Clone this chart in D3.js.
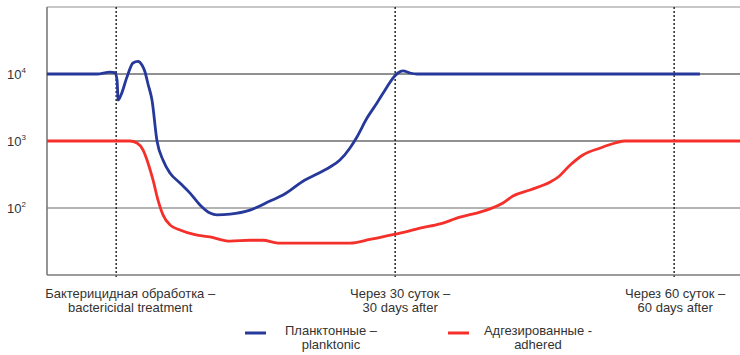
<!DOCTYPE html>
<html><head><meta charset="utf-8">
<script src="https://cdn.jsdelivr.net/npm/d3@7"></script>
<style>
html,body{margin:0;padding:0;background:#fff;}
svg{display:block;}
text{font-family:"Liberation Sans Narrow","Arial Narrow","Liberation Sans",Arial,sans-serif;fill:#333;}
</style></head>
<body><svg id="chart" width="740" height="355"></svg>
<script>
// ---- data ----
// x: days relative to the bactericidal treatment; y: cell count (log scale)
const planktonicDays = [-7.44,-2.06,-0.67,-0.13,0.09,0.22,0.52,1.16,1.81,2.34,2.77,3.10,3.42,3.85,4.39,5.03,5.78,6.86,7.94,9.01,10.09,10.84,12.24,14.39,16.54,17.94,20.30,21.59,22.99,24.06,25.14,25.89,26.97,28.04,29.12,29.76,30.30,30.84,31.59,32.34,62.77];
const planktonicValues = [10000,10000,10700,10500,8130,4090,4860,9010,14600,15400,13600,10700,7100,4090,1000,520,333,236,167,111,84,79,81,93,127,156,262,321,409,520,787,1150,2200,3690,6400,8710,10350,11100,10350,10000,10000];
const adheredDays = [-7.44,1.48,2.24,2.88,3.42,3.96,4.49,5.03,5.78,6.86,8.47,10.09,12.24,14.39,15.78,17.40,25.14,27.29,29.76,30.52,32.67,34.82,36.97,39.12,40.19,41.59,42.67,44.49,46.67,47.53,48.82,50.19,52.06,53.67,54.71,67.08];
const adheredValues = [1000,1000,933,735,470,262,132,79,56,47,40,37,32,33,33,30,30,34,40,42,50,58,73,87,97,119,151,186,244,290,438,618,787,933,1000,1000];
const yTicks = [100,1000,10000];
const xTickDays = [0,30,60];
const xTickLabels = [["Бактерицидная обработка –","bactericidal treatment"],["Через 30 суток –","30 days after"],["Через 60 суток –","60 days after"]];
const seriesNames = [["Планктонные –","planktonic"],["Адгезированные -","adhered"]];
const seriesColors = ["#26399a","#f5302a"];

// ---- layout ----
const svg = d3.select("#chart");
const L = 47, R = 740, T = 7, B = 275;
const x = d3.scaleLinear().domain([-7.44, 67.08]).range([L, R]);
const y = d3.scaleLog().domain([10, 100000]).range([B, T]);

// top border
svg.append("line").attr("x1",L).attr("x2",R).attr("y1",T).attr("y2",T)
  .attr("stroke","#b5b5b5").attr("stroke-width",1.5);

// horizontal grid
svg.append("g").selectAll("line").data(yTicks).join("line")
  .attr("x1",L).attr("x2",R).attr("y1",d=>y(d)).attr("y2",d=>y(d))
  .attr("stroke",d=>d===100?"#9a9a9a":"#222").attr("stroke-width",d=>d===100?1.3:1);

// vertical dashed lines
svg.append("g").selectAll("line").data(xTickDays).join("line")
  .attr("x1",d=>x(d)).attr("x2",d=>x(d)).attr("y1",T).attr("y2",B+4)
  .attr("stroke","#2a2a2a").attr("stroke-width",1.5).attr("stroke-dasharray","2,2");

// axes lines
svg.append("line").attr("x1",L).attr("x2",L).attr("y1",T).attr("y2",B)
  .attr("stroke","#7a7a7a").attr("stroke-width",1.6);
svg.append("line").attr("x1",L).attr("x2",R).attr("y1",B).attr("y2",B)
  .attr("stroke","#7a7a7a").attr("stroke-width",1.6);

// y labels
const yl = svg.append("g").selectAll("text").data(yTicks).join("text")
  .attr("x",7).attr("y",d=>y(d)+5).attr("font-size",13);
yl.append("tspan").text("10");
yl.append("tspan").attr("dy",-6).attr("font-size",8).text(d=>Math.round(Math.log10(d)));

// x labels
const dxOff = [14,5,1];
const xl = svg.append("g").selectAll("text").data(xTickDays).join("text")
  .attr("text-anchor","middle").attr("font-size",13);
xl.each(function(d,i){
  const t = d3.select(this);
  xTickLabels[i].forEach((s,j)=>{
    t.append("tspan").attr("x",x(d)+dxOff[i]).attr("y",298+j*14).text(s);
  });
});

// lines
const line = d3.line().x(d=>x(d[0])).y(d=>y(d[1])).curve(d3.curveMonotoneX);
const pl = planktonicDays.map((d,i)=>[d,planktonicValues[i]]);
const ad = adheredDays.map((d,i)=>[d,adheredValues[i]]);
svg.append("path").datum(ad).attr("d",line).attr("fill","none")
  .attr("stroke",seriesColors[1]).attr("stroke-width",2.8).attr("stroke-linejoin","round");
svg.append("path").datum(pl).attr("d",line).attr("fill","none")
  .attr("stroke",seriesColors[0]).attr("stroke-width",2.8).attr("stroke-linejoin","round");

// legend
const legX = [245,448], legTextX = [331,538];
seriesNames.forEach((n,i)=>{
  svg.append("line").attr("x1",legX[i]).attr("x2",legX[i]+21).attr("y1",333).attr("y2",333)
    .attr("stroke",seriesColors[i]).attr("stroke-width",3);
  const t = svg.append("text").attr("text-anchor","middle").attr("font-size",13);
  n.forEach((s,j)=>t.append("tspan").attr("x",legTextX[i]).attr("y",335+j*14).text(s));
});
</script></body></html>
